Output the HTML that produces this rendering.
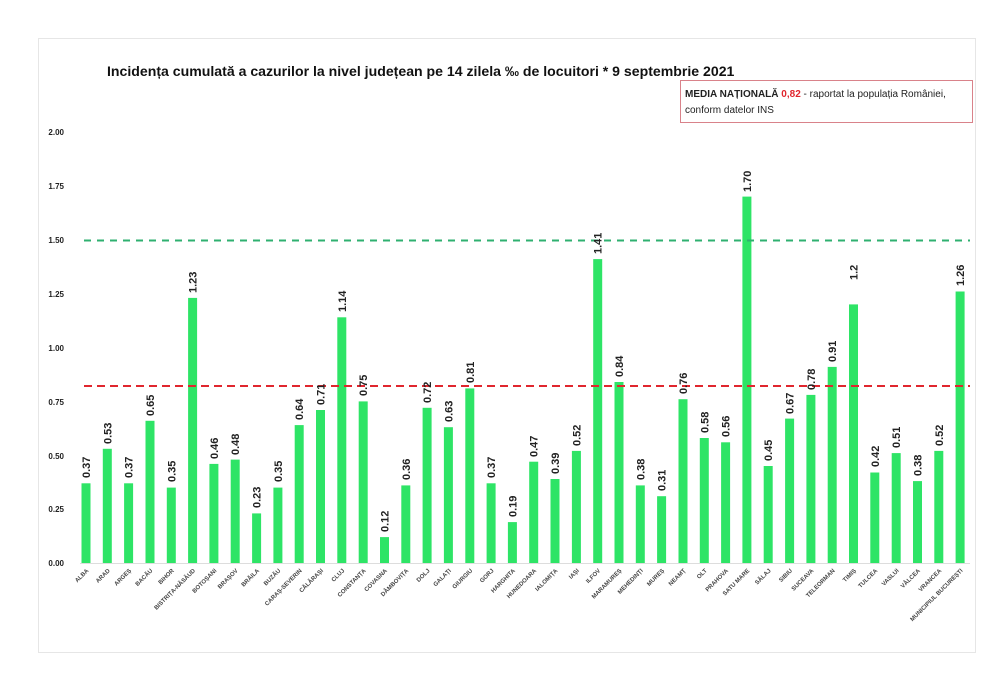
<!DOCTYPE html>
<html><head><meta charset="utf-8"><style>
html,body{margin:0;padding:0;background:#fff;}
svg{display:block;font-family:"Liberation Sans",Arial,sans-serif;}
.v{font-size:11px;font-weight:bold;fill:#222;}
.c{font-size:6px;font-weight:bold;fill:#444;}
.y{font-size:8px;font-weight:bold;fill:#222;}
</style></head><body>
<svg width="1000" height="688" viewBox="0 0 1000 688">
<rect x="38.5" y="38.5" width="937" height="614" fill="#fff" stroke="#e6e6e6"/>
<text x="107" y="76" font-size="14.1" font-weight="bold" fill="#111">Incidența cumulată a cazurilor la nivel județean pe 14 zilela ‰ de locuitori * 9 septembrie 2021</text>
<rect x="680.5" y="80.5" width="292" height="42" fill="#fff" stroke="#d9828a"/>
<text x="685" y="97" font-size="10" fill="#222"><tspan font-weight="bold">MEDIA NAȚIONALĂ </tspan><tspan font-weight="bold" fill="#e0262e">0,82</tspan><tspan> - raportat la populația României,</tspan></text>
<text x="685" y="113" font-size="10" fill="#222">conform datelor INS</text>
<g class="y" text-anchor="end">
<text x="64" y="135">2.00</text><text x="64" y="189">1.75</text><text x="64" y="243">1.50</text><text x="64" y="297">1.25</text><text x="64" y="351">1.00</text><text x="64" y="405">0.75</text><text x="64" y="459">0.50</text><text x="64" y="512">0.25</text><text x="64" y="566">0.00</text>
</g>
<line x1="80" y1="563.5" x2="970" y2="563.5" stroke="#ddd" stroke-width="1"/>
<g fill="#2ee466">
<rect x="81.5" y="483.3" width="9" height="79.7"/>
<rect x="102.8" y="448.8" width="9" height="114.2"/>
<rect x="124.1" y="483.3" width="9" height="79.7"/>
<rect x="145.5" y="420.8" width="9" height="142.2"/>
<rect x="166.8" y="487.6" width="9" height="75.4"/>
<rect x="188.1" y="297.9" width="9" height="265.1"/>
<rect x="209.4" y="463.9" width="9" height="99.1"/>
<rect x="230.7" y="459.6" width="9" height="103.4"/>
<rect x="252.1" y="513.4" width="9" height="49.6"/>
<rect x="273.4" y="487.6" width="9" height="75.4"/>
<rect x="294.7" y="425.1" width="9" height="137.9"/>
<rect x="316.0" y="410.0" width="9" height="153.0"/>
<rect x="337.3" y="317.3" width="9" height="245.7"/>
<rect x="358.7" y="401.4" width="9" height="161.6"/>
<rect x="380.0" y="537.1" width="9" height="25.9"/>
<rect x="401.3" y="485.4" width="9" height="77.6"/>
<rect x="422.6" y="407.8" width="9" height="155.2"/>
<rect x="443.9" y="427.2" width="9" height="135.8"/>
<rect x="465.3" y="388.4" width="9" height="174.6"/>
<rect x="486.6" y="483.3" width="9" height="79.7"/>
<rect x="507.9" y="522.1" width="9" height="40.9"/>
<rect x="529.2" y="461.7" width="9" height="101.3"/>
<rect x="550.5" y="479.0" width="9" height="84.0"/>
<rect x="571.9" y="450.9" width="9" height="112.1"/>
<rect x="593.2" y="259.1" width="9" height="303.9"/>
<rect x="614.5" y="382.0" width="9" height="181.0"/>
<rect x="635.8" y="485.4" width="9" height="77.6"/>
<rect x="657.1" y="496.2" width="9" height="66.8"/>
<rect x="678.5" y="399.2" width="9" height="163.8"/>
<rect x="699.8" y="438.0" width="9" height="125.0"/>
<rect x="721.1" y="442.3" width="9" height="120.7"/>
<rect x="742.4" y="196.6" width="9" height="366.4"/>
<rect x="763.7" y="466.0" width="9" height="97.0"/>
<rect x="785.1" y="418.6" width="9" height="144.4"/>
<rect x="806.4" y="394.9" width="9" height="168.1"/>
<rect x="827.7" y="366.9" width="9" height="196.1"/>
<rect x="849.0" y="304.4" width="9" height="258.6"/>
<rect x="870.3" y="472.5" width="9" height="90.5"/>
<rect x="891.7" y="453.1" width="9" height="109.9"/>
<rect x="913.0" y="481.1" width="9" height="81.9"/>
<rect x="934.3" y="450.9" width="9" height="112.1"/>
<rect x="955.6" y="291.5" width="9" height="271.5"/>
</g>
<line x1="84" y1="240.5" x2="970" y2="240.5" stroke="#2fb070" stroke-width="2" stroke-dasharray="7,6"/>
<line x1="84" y1="386" x2="970" y2="386" stroke="#e0262e" stroke-width="2" stroke-dasharray="8,5"/>
<g class="v">
<text transform="translate(90,478) rotate(-90)">0.37</text>
<text transform="translate(111.3,444) rotate(-90)">0.53</text>
<text transform="translate(132.6,478) rotate(-90)">0.37</text>
<text transform="translate(154,416) rotate(-90)">0.65</text>
<text transform="translate(175.3,482) rotate(-90)">0.35</text>
<text transform="translate(196.6,293) rotate(-90)">1.23</text>
<text transform="translate(217.9,459) rotate(-90)">0.46</text>
<text transform="translate(239.2,455) rotate(-90)">0.48</text>
<text transform="translate(260.6,508) rotate(-90)">0.23</text>
<text transform="translate(281.9,482) rotate(-90)">0.35</text>
<text transform="translate(303.2,420) rotate(-90)">0.64</text>
<text transform="translate(324.5,405) rotate(-90)">0.71</text>
<text transform="translate(345.8,312) rotate(-90)">1.14</text>
<text transform="translate(367.2,396) rotate(-90)">0.75</text>
<text transform="translate(388.5,532) rotate(-90)">0.12</text>
<text transform="translate(409.8,480) rotate(-90)">0.36</text>
<text transform="translate(431.1,403) rotate(-90)">0.72</text>
<text transform="translate(452.4,422) rotate(-90)">0.63</text>
<text transform="translate(473.8,383) rotate(-90)">0.81</text>
<text transform="translate(495.1,478) rotate(-90)">0.37</text>
<text transform="translate(516.4,517) rotate(-90)">0.19</text>
<text transform="translate(537.7,457) rotate(-90)">0.47</text>
<text transform="translate(559,474) rotate(-90)">0.39</text>
<text transform="translate(580.4,446) rotate(-90)">0.52</text>
<text transform="translate(601.7,254) rotate(-90)">1.41</text>
<text transform="translate(623,377) rotate(-90)">0.84</text>
<text transform="translate(644.3,480) rotate(-90)">0.38</text>
<text transform="translate(665.6,491) rotate(-90)">0.31</text>
<text transform="translate(687,394) rotate(-90)">0.76</text>
<text transform="translate(708.3,433) rotate(-90)">0.58</text>
<text transform="translate(729.6,437) rotate(-90)">0.56</text>
<text transform="translate(750.9,192) rotate(-90)">1.70</text>
<text transform="translate(772.2,461) rotate(-90)">0.45</text>
<text transform="translate(793.6,414) rotate(-90)">0.67</text>
<text transform="translate(814.9,390) rotate(-90)">0.78</text>
<text transform="translate(836.2,362) rotate(-90)">0.91</text>
<text transform="translate(857.5,280) rotate(-90)">1.2</text>
<text transform="translate(878.8,467) rotate(-90)">0.42</text>
<text transform="translate(900.2,448) rotate(-90)">0.51</text>
<text transform="translate(921.5,476) rotate(-90)">0.38</text>
<text transform="translate(942.8,446) rotate(-90)">0.52</text>
<text transform="translate(964.1,286) rotate(-90)">1.26</text>
</g>
<g class="c" text-anchor="end">
<text transform="translate(89,571) rotate(-45)">ALBA</text>
<text transform="translate(110.3,571) rotate(-45)">ARAD</text>
<text transform="translate(131.6,571) rotate(-45)">ARGEȘ</text>
<text transform="translate(153,571) rotate(-45)">BACĂU</text>
<text transform="translate(174.3,571) rotate(-45)">BIHOR</text>
<text transform="translate(195.6,571) rotate(-45)">BISTRIȚA-NĂSĂUD</text>
<text transform="translate(216.9,571) rotate(-45)">BOTOȘANI</text>
<text transform="translate(238.2,571) rotate(-45)">BRAȘOV</text>
<text transform="translate(259.6,571) rotate(-45)">BRĂILA</text>
<text transform="translate(280.9,571) rotate(-45)">BUZĂU</text>
<text transform="translate(302.2,571) rotate(-45)">CARAȘ-SEVERIN</text>
<text transform="translate(323.5,571) rotate(-45)">CĂLĂRAȘI</text>
<text transform="translate(344.8,571) rotate(-45)">CLUJ</text>
<text transform="translate(366.2,571) rotate(-45)">CONSTANȚA</text>
<text transform="translate(387.5,571) rotate(-45)">COVASNA</text>
<text transform="translate(408.8,571) rotate(-45)">DÂMBOVIȚA</text>
<text transform="translate(430.1,571) rotate(-45)">DOLJ</text>
<text transform="translate(451.4,571) rotate(-45)">GALAȚI</text>
<text transform="translate(472.8,571) rotate(-45)">GIURGIU</text>
<text transform="translate(494.1,571) rotate(-45)">GORJ</text>
<text transform="translate(515.4,571) rotate(-45)">HARGHITA</text>
<text transform="translate(536.7,571) rotate(-45)">HUNEDOARA</text>
<text transform="translate(558,571) rotate(-45)">IALOMIȚA</text>
<text transform="translate(579.4,571) rotate(-45)">IAȘI</text>
<text transform="translate(600.7,571) rotate(-45)">ILFOV</text>
<text transform="translate(622,571) rotate(-45)">MARAMUREȘ</text>
<text transform="translate(643.3,571) rotate(-45)">MEHEDINȚI</text>
<text transform="translate(664.6,571) rotate(-45)">MUREȘ</text>
<text transform="translate(686,571) rotate(-45)">NEAMȚ</text>
<text transform="translate(707.3,571) rotate(-45)">OLT</text>
<text transform="translate(728.6,571) rotate(-45)">PRAHOVA</text>
<text transform="translate(749.9,571) rotate(-45)">SATU MARE</text>
<text transform="translate(771.2,571) rotate(-45)">SĂLAJ</text>
<text transform="translate(792.6,571) rotate(-45)">SIBIU</text>
<text transform="translate(813.9,571) rotate(-45)">SUCEAVA</text>
<text transform="translate(835.2,571) rotate(-45)">TELEORMAN</text>
<text transform="translate(856.5,571) rotate(-45)">TIMIȘ</text>
<text transform="translate(877.8,571) rotate(-45)">TULCEA</text>
<text transform="translate(899.2,571) rotate(-45)">VASLUI</text>
<text transform="translate(920.5,571) rotate(-45)">VÂLCEA</text>
<text transform="translate(941.8,571) rotate(-45)">VRANCEA</text>
<text transform="translate(963.1,571) rotate(-45)">MUNICIPIUL BUCUREȘTI</text>
</g>
</svg>
</body></html>
